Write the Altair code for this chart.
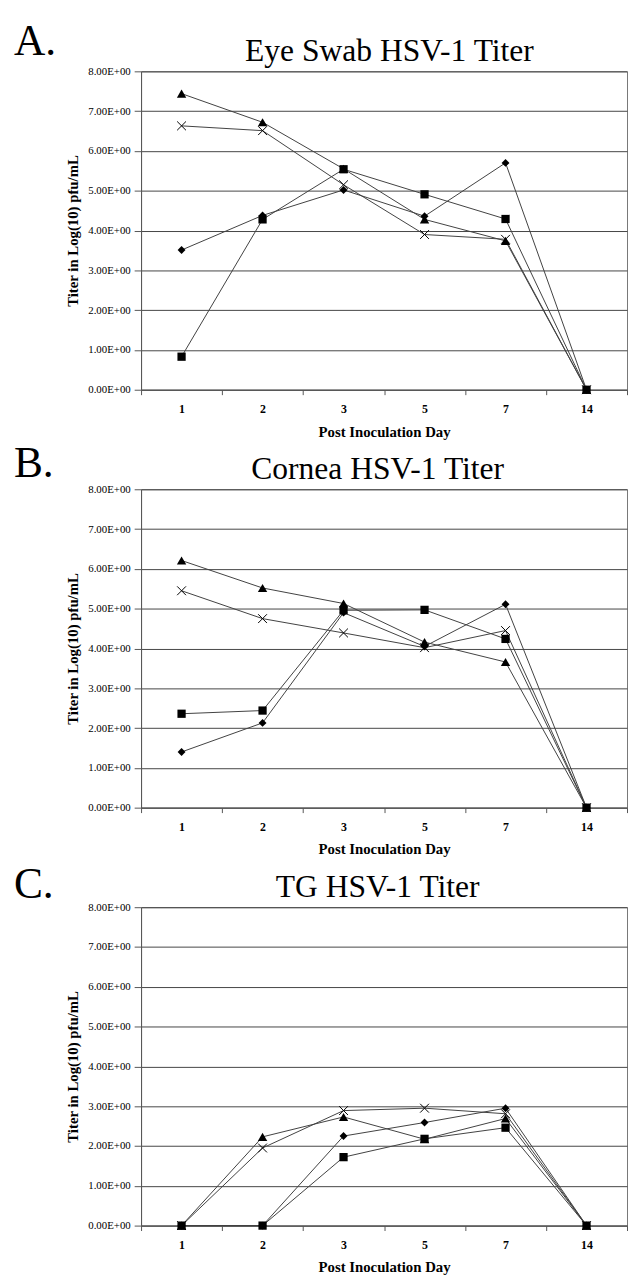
import altair as alt
import pandas as pd

# ---------------- data ----------------
days = [1, 2, 3, 5, 7, 14]
series_names = ["diamond", "triangle", "cross", "square"]

eye_diamond = [3.51, 4.38, 5.02, 4.36, 5.70, 0.0]
eye_square = [0.83, 4.28, 5.54, 4.91, 4.29, 0.0]
eye_triangle = [7.44, 6.72, 5.55, 4.28, 3.74, 0.0]
eye_cross = [6.63, 6.51, 5.15, 3.90, 3.78, 0.0]

cornea_diamond = [1.40, 2.13, 4.90, 4.05, 5.11, 0.0]
cornea_square = [2.36, 2.44, 4.96, 4.97, 4.24, 0.0]
cornea_triangle = [6.21, 5.52, 5.13, 4.16, 3.66, 0.0]
cornea_cross = [5.45, 4.75, 4.39, 4.02, 4.45, 0.0]

tg_diamond = [0.0, 0.0, 2.25, 2.59, 2.95, 0.0]
tg_square = [0.0, 0.0, 1.72, 2.18, 2.46, 0.0]
tg_triangle = [0.0, 2.23, 2.73, 2.17, 2.69, 0.0]
tg_cross = [0.0, 1.95, 2.89, 2.95, 2.81, 0.0]

panel_letters = ["A.", "B.", "C."]
panel_titles = ["Eye Swab HSV-1 Titer", "Cornea HSV-1 Titer", "TG HSV-1 Titer"]
y_ticks = [0, 1, 2, 3, 4, 5, 6, 7, 8]
x_title = "Post Inoculation Day"
y_title = "Titer in Log(10) pfu/mL"

# ---------------- styling ----------------
SERIF = "Liberation Serif"
W, H = 493, 323
LINE = "#404040"
AXIS = "#555555"
XSHAPE = "M-1,-1L1,1M-1,1L1,-1"

marker_style = {
    "diamond": dict(shape="diamond", size=64, filled=True),
    "triangle": dict(shape="triangle-up", size=90, filled=True),
    "cross": dict(shape=XSHAPE, size=80, filled=False, strokeWidth=1),
    "square": dict(shape="square", size=70, filled=True),
}


def panel(series_values, letter, title, letter_y, title_x):
    rows = []
    for name, vals in zip(series_names, series_values):
        for d, v in zip(days, vals):
            rows.append({"day": d, "value": v, "series": name})
    df = pd.DataFrame(rows)
    base = alt.Chart(df)

    x = alt.X(
        "day:O",
        sort=days,
        scale=alt.Scale(type="band", paddingInner=0, paddingOuter=0),
        title=x_title,
        axis=alt.Axis(
            tickBand="extent",
            labelAngle=0,
            labelFont=SERIF,
            labelFontSize=12,
            labelFontWeight="bold",
            labelColor="black",
            labelPadding=9,
            tickSize=5,
            tickColor=AXIS,
            domainColor=AXIS,
            grid=False,
            titleFont=SERIF,
            titleFontSize=15,
            titleFontWeight="bold",
            titleColor="black",
            titlePadding=10,
        ),
    )
    y = alt.Y(
        "value:Q",
        scale=alt.Scale(domain=[0, 8], nice=False),
        title=y_title,
        axis=alt.Axis(
            values=y_ticks,
            labelExpr="format(datum.value, '.2f') + 'E+00'",
            labelFont=SERIF,
            labelFontSize=11,
            labelColor="black",
            labelPadding=4,
            tickSize=7,
            tickColor=AXIS,
            domainColor=AXIS,
            grid=True,
            gridColor="#444444",
            gridWidth=1,
            titleFont=SERIF,
            titleFontSize=15,
            titleFontWeight="bold",
            titleColor="black",
            titlePadding=7,
        ),
    )

    layers = [
        base.mark_line(color=LINE, strokeWidth=1).encode(
            x=x, y=y, detail="series:N"
        )
    ]
    for name in series_names:
        st = marker_style[name]
        layers.append(
            base.transform_filter(alt.datum.series == name)
            .mark_point(color="black", opacity=1, **st)
            .encode(x=x, y=y)
        )
    layers.append(
        alt.Chart(pd.DataFrame({"t": [letter]}))
        .mark_text(align="left", baseline="alphabetic", font=SERIF,
                   fontSize=44, color="black")
        .encode(text="t:N", x=alt.value(-129), y=alt.value(letter_y))
    )
    layers.append(
        alt.Chart(pd.DataFrame({"t": [title]}))
        .mark_text(align="center", baseline="alphabetic", font=SERIF,
                   fontSize=32, color="black")
        .encode(text="t:N", x=alt.value(title_x), y=alt.value(-10))
    )
    return alt.layer(*layers).properties(width=W, height=H)


pA = panel([eye_diamond, eye_triangle, eye_cross, eye_square],
           panel_letters[0], panel_titles[0], -17, 252)
pB = panel([cornea_diamond, cornea_triangle, cornea_cross, cornea_square],
           panel_letters[1], panel_titles[1], -12, 240)
pC = panel([tg_diamond, tg_triangle, tg_cross, tg_square],
           panel_letters[2], panel_titles[2], -9, 240)

chart = (
    alt.vconcat(pA, pB, pC, spacing=101, bounds="flush")
    .properties(padding={"left": 5, "top": 2, "right": 0, "bottom": 0},
                background="white")
    .configure_view(stroke="#777777", strokeWidth=1)
)

chart.save("out.html", embed_options={"renderer": "svg", "actions": False})
